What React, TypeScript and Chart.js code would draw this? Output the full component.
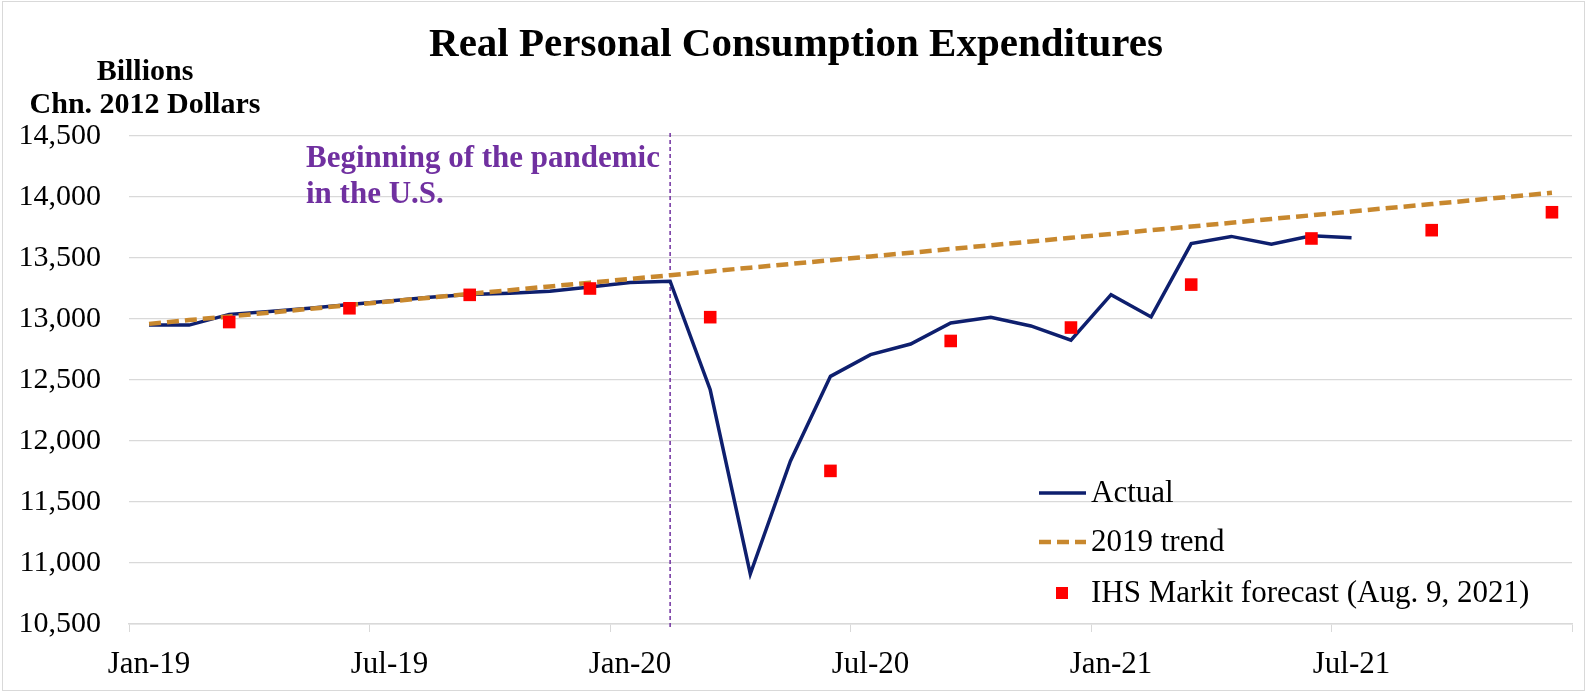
import React, { useEffect, useRef } from 'react';
import { Chart, registerables } from 'chart.js';

Chart.register(...registerables);

// ---- Data ----
const months = [
  'Jan-19', 'Feb-19', 'Mar-19', 'Apr-19', 'May-19', 'Jun-19', 'Jul-19', 'Aug-19', 'Sep-19', 'Oct-19', 'Nov-19', 'Dec-19',
  'Jan-20', 'Feb-20', 'Mar-20', 'Apr-20', 'May-20', 'Jun-20', 'Jul-20', 'Aug-20', 'Sep-20', 'Oct-20', 'Nov-20', 'Dec-20',
  'Jan-21', 'Feb-21', 'Mar-21', 'Apr-21', 'May-21', 'Jun-21', 'Jul-21', 'Aug-21', 'Sep-21', 'Oct-21', 'Nov-21', 'Dec-21',
];
const tickLabels = ['Jan-19', 'Jul-19', 'Jan-20', 'Jul-20', 'Jan-21', 'Jul-21'];

const actual = [
  12950, 12950, 13038, 13062, 13088, 13118, 13148, 13178, 13200, 13212, 13228, 13262,
  13300, 13310, 12420, 10910, 11835, 12530, 12708, 12795, 12968, 13014, 12943, 12826,
  13200, 13017, 13618, 13677, 13612, 13682, 13666,
];

const trend2019 = [
  12960, 12991, 13021, 13052, 13083, 13114, 13144, 13175, 13206, 13236, 13267, 13298,
  13328, 13359, 13390, 13421, 13451, 13482, 13513, 13543, 13574, 13605, 13635, 13666,
  13697, 13728, 13758, 13789, 13820, 13850, 13881, 13912, 13942, 13973, 14004, 14035,
];

const forecastMonths = ['Mar-19', 'Jun-19', 'Sep-19', 'Dec-19', 'Mar-20', 'Jun-20', 'Sep-20', 'Dec-20', 'Mar-21', 'Jun-21', 'Sep-21', 'Dec-21'];
const forecastValues = [12975, 13088, 13198, 13250, 13015, 11755, 12820, 12930, 13282, 13660, 13728, 13875];

const pandemicMonth = 'Feb-20';

const TITLE = 'Real Personal Consumption Expenditures';
const Y_TITLE_1 = 'Billions';
const Y_TITLE_2 = 'Chn. 2012 Dollars';
const NOTE_1 = 'Beginning of the pandemic';
const NOTE_2 = 'in the U.S.';
const LEGEND = ['Actual', '2019 trend', 'IHS Markit forecast (Aug. 9, 2021)'];

const SERIF = "'Liberation Serif', 'Times New Roman', serif";
const NAVY = '#0E1F6E';
const GOLD = '#C8882E';
const RED = '#FF0000';
const PURPLE = '#7030A0';
const GRID = '#D9D9D9';

export default function App() {
  const canvasRef = useRef<HTMLCanvasElement | null>(null);

  useEffect(() => {
    document.body.style.margin = '0';
    const canvas = canvasRef.current;
    if (!canvas) return;

    const forecastSeries = months.map((m) => {
      const k = forecastMonths.indexOf(m);
      return k >= 0 ? forecastValues[k] : null;
    });

    const overlay = {
      id: 'overlay',
      beforeDatasetsDraw(chart: any) {
        const { ctx, chartArea, scales } = chart;
        const x = scales.x.getPixelForValue(months.indexOf(pandemicMonth));
        ctx.save();
        ctx.strokeStyle = PURPLE;
        ctx.lineWidth = 1.5;
        ctx.setLineDash([4, 3]);
        ctx.beginPath();
        ctx.moveTo(x, chartArea.top - 3);
        ctx.lineTo(x, chartArea.bottom + 4);
        ctx.stroke();
        ctx.restore();
      },
      afterDraw(chart: any) {
        const { ctx, width, height } = chart;
        ctx.save();
        // outer border
        ctx.strokeStyle = GRID;
        ctx.lineWidth = 1;
        ctx.strokeRect(2.5, 1.5, width - 5, height - 3);

        // title
        ctx.fillStyle = '#000';
        ctx.textAlign = 'center';
        ctx.textBaseline = 'alphabetic';
        ctx.font = `bold 41px ${SERIF}`;
        ctx.fillText(TITLE, 796, 56);

        // y-axis title
        ctx.font = `bold 30px ${SERIF}`;
        ctx.fillText(Y_TITLE_1, 145, 80);
        ctx.fillText(Y_TITLE_2, 145, 113);

        // annotation
        ctx.fillStyle = PURPLE;
        ctx.textAlign = 'left';
        ctx.font = `bold 31px ${SERIF}`;
        ctx.fillText(NOTE_1, 306, 167);
        ctx.fillText(NOTE_2, 306, 203);

        // legend
        const lx0 = 1039, lx1 = 1086, tx = 1091;
        const ys = [493, 542, 593];
        ctx.lineCap = 'butt';
        ctx.strokeStyle = NAVY;
        ctx.lineWidth = 3.5;
        ctx.beginPath();
        ctx.moveTo(lx0, ys[0]);
        ctx.lineTo(lx1, ys[0]);
        ctx.stroke();
        ctx.strokeStyle = GOLD;
        ctx.lineWidth = 4.5;
        ctx.setLineDash([12, 6]);
        ctx.beginPath();
        ctx.moveTo(lx0, ys[1]);
        ctx.lineTo(lx1, ys[1]);
        ctx.stroke();
        ctx.setLineDash([]);
        ctx.fillStyle = RED;
        ctx.fillRect(1056, ys[2] - 6, 12, 12);

        ctx.fillStyle = '#000';
        ctx.font = `31px ${SERIF}`;
        ctx.textBaseline = 'middle';
        LEGEND.forEach((t, i) => ctx.fillText(t, tx, ys[i] + 1));
        ctx.restore();
      },
    };

    const chart = new Chart(canvas, {
      type: 'line',
      data: {
        labels: months,
        datasets: [
          {
            label: LEGEND[0],
            data: actual,
            borderColor: NAVY,
            backgroundColor: NAVY,
            borderWidth: 3.5,
            pointRadius: 0,
            tension: 0,
            order: 2,
          },
          {
            label: LEGEND[1],
            data: trend2019,
            borderColor: GOLD,
            backgroundColor: GOLD,
            borderWidth: 4.5,
            borderDash: [12, 6],
            pointRadius: 0,
            tension: 0,
            order: 1,
          },
          {
            label: LEGEND[2],
            data: forecastSeries,
            showLine: false,
            pointStyle: 'rect',
            pointRadius: 8.9,
            pointBackgroundColor: RED,
            pointBorderWidth: 0,
            borderColor: RED,
            order: 0,
          },
        ],
      },
      options: {
        animation: false,
        responsive: false,
        maintainAspectRatio: false,
        layout: { padding: { top: 136, right: 15, left: 0, bottom: 0 } },
        plugins: {
          legend: { display: false },
          tooltip: { enabled: false },
          title: { display: false },
        },
        scales: {
          x: {
            type: 'category',
            offset: true,
            grid: {
              offset: true,
              drawOnChartArea: false,
              drawTicks: true,
              tickLength: 8,
              lineWidth: 1,
              color: (ctx: any) =>
                ctx.index === undefined || ctx.index % 6 === 0 ? GRID : 'rgba(0,0,0,0)',
            },
            border: { color: GRID, width: 1.5 },
            ticks: {
              autoSkip: false,
              maxRotation: 0,
              minRotation: 0,
              padding: 14,
              color: '#000',
              font: { family: SERIF, size: 31 },
              callback: (_v: any, i: number) => (tickLabels.includes(months[i]) ? months[i] : ''),
            },
            afterFit: (s: any) => {
              s.height = 68;
            },
          },
          y: {
            min: 10500,
            max: 14500,
            ticks: {
              stepSize: 500,
              padding: 28,
              color: '#000',
              font: { family: SERIF, size: 30 },
              callback: (v: any) => Number(v).toLocaleString('en-US'),
            },
            grid: { color: GRID, lineWidth: 1.3, drawTicks: false },
            border: { display: false },
            afterFit: (s: any) => {
              s.width = 129;
            },
          },
        },
      },
      plugins: [overlay],
    });

    return () => chart.destroy();
  }, []);

  return (
    <div style={{ position: 'fixed', left: 0, top: 0, width: 1587, height: 692, background: '#fff' }}>
      <canvas ref={canvasRef} width={1587} height={692} style={{ width: 1587, height: 692, display: 'block' }} />
    </div>
  );
}
